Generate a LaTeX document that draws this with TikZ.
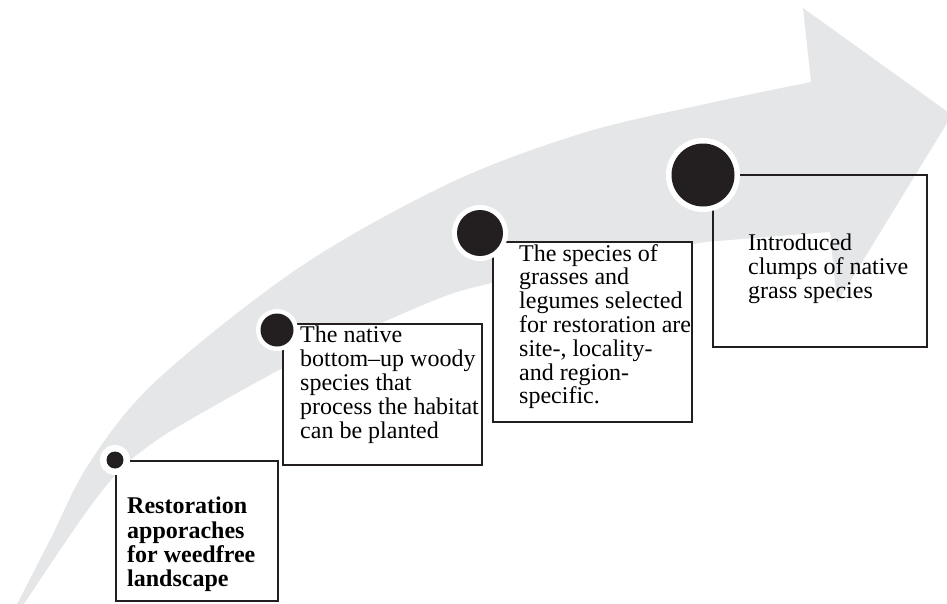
\documentclass[tikz,border=0pt]{standalone}
\usepackage{fontspec}
\setmainfont{Liberation Serif}
\definecolor{arrowgray}{RGB}{229,230,232}
\definecolor{dotblack}{RGB}{35,31,32}
\tikzset{
  stepframe/.style={draw=dotblack, line width=1.6pt, fill=white, anchor=north west, inner sep=0pt},
  openframe/.style={draw=dotblack, line width=1.6pt, anchor=north west, inner sep=0pt},
  ring/.style={circle, fill=white, inner sep=0pt},
  dot/.style={circle, fill=dotblack, inner sep=0pt},
  steptext/.style={anchor=north west, inner sep=0pt, align=left, text=black,
    font=\fontsize{24}{23.8}\selectfont},
  titletext/.style={anchor=north west, inner sep=0pt, align=left, text=black,
    font=\fontsize{24}{24.3}\selectfont\bfseries},
}
\begin{document}
\begin{tikzpicture}[x=1pt, y=-1pt]
  \useasboundingbox (0,0) rectangle (947,603);
  \clip (0,0) rectangle (947,603);

  % sweeping background arrow
  \fill[arrowgray]
    plot[smooth, tension=0.55] coordinates
      {(14,610) (50,540) (90,462) (157,380) (300,267) (450,183) (583,133) (710,103) (811,82)}
    -- (803,8) -- (952,115) -- (837,303)
    -- plot[smooth, tension=0.55] coordinates
      {(830,232) (730,240) (693,244) (600,262) (492,283) (430,302) (300,360) (257,382) (200,414) (160,438) (125,465) (95,500) (60,550) (20,610)}
    -- cycle;

  % frames
  \node[stepframe, minimum width=162pt, minimum height=140pt] (box1) at (115,460) {};
  \node[stepframe, minimum width=199pt, minimum height=141pt] (box2) at (282,323) {};
  \node[stepframe, minimum width=199pt, minimum height=180pt] (box3) at (492,241) {};
  \node[openframe, minimum width=214pt, minimum height=172pt] (box4) at (712,174) {};

  % texts
  \node[titletext] (t1) at (127,497) {Restoration\\apporaches\\for weedfree\\landscape};
  \node[steptext] (t2) at (300,326) {The native\\bottom--up woody\\species that\\process the habitat\\can be planted};
  \node[steptext] (t3) at (519,244) {The species of\\grasses and\\legumes selected\\for restoration are\\site-, locality-\\and region-\\specific.};
  \node[steptext] (t4) at (748,234) {Introduced\\clumps of native\\grass species};

  % milestone dots
  \node[ring, minimum size=30pt] (r1) at (115,460) {};
  \node[dot, minimum size=17pt] (d1) at (r1) {};
  \node[ring, minimum size=42pt] (r2) at (277,330) {};
  \node[dot, minimum size=33pt] (d2) at (r2) {};
  \node[ring, minimum size=56pt] (r3) at (480,233) {};
  \node[dot, minimum size=46pt] (d3) at (r3) {};
  \node[ring, minimum size=74pt] (r4) at (703,175) {};
  \node[dot, minimum size=63pt] (d4) at (r4) {};
\end{tikzpicture}
\end{document}
